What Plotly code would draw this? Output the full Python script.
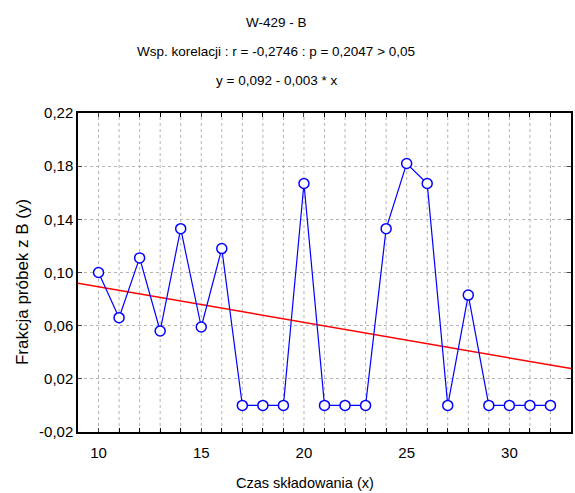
import numpy as np
import plotly.graph_objects as go

x_vals = list(range(10, 33))
y_vals = [0.100, 0.066, 0.111, 0.056, 0.133, 0.059, 0.118, 0.0, 0.0, 0.0,
          0.167, 0.0, 0.0, 0.0, 0.133, 0.182, 0.167, 0.0, 0.083, 0.0,
          0.0, 0.0, 0.0]
y_ticks = [-0.02, 0.02, 0.06, 0.10, 0.14, 0.18, 0.22]
y_ticktext = ["-0,02", "0,02", "0,06", "0,10", "0,14", "0,18", "0,22"]
x_ticks = [10, 15, 20, 25, 30]
title_lines = ["W-429 - B",
               "Wsp. korelacji : r = -0,2746 : p = 0,2047 > 0,05",
               "y = 0,092 - 0,003 * x"]
x_title = "Czas składowania (x)"
y_title = "Frakcja próbek z B (y)"
x_range = [9, 33]
y_range = [-0.02, 0.22]

slope, intercept = np.polyfit(x_vals, y_vals, 1)
fit_x = np.array(x_range, dtype=float)
fit_y = intercept + slope * fit_x

FONT = "Liberation Sans, Arial, sans-serif"

fig = go.Figure()
# vertical grid at every integer
for xv in range(10, 33):
    fig.add_shape(type="line", xref="x", yref="paper", x0=xv, x1=xv, y0=0, y1=1,
                  line=dict(color="#b4b4b4", width=1, dash="dot"), layer="below")

fig.add_trace(go.Scatter(x=fit_x, y=fit_y, mode="lines",
                         line=dict(color="#ff0000", width=1.5),
                         showlegend=False, hoverinfo="skip"))
fig.add_trace(go.Scatter(x=x_vals, y=y_vals, mode="lines+markers",
                         line=dict(color="#0000ff", width=1.2),
                         marker=dict(symbol="circle", size=10, color="white",
                                     line=dict(color="#0000ff", width=1.5)),
                         showlegend=False, cliponaxis=False))

for i, t in enumerate(title_lines):
    fig.add_annotation(text=t, xref="paper", yref="paper", x=0.402, y=1,
                       xanchor="center", yanchor="middle", showarrow=False,
                       yshift=91 - 29 * i,
                       font=dict(family=FONT, size=13.5, color="black"))

fig.add_annotation(text=x_title, xref="paper", yref="paper", x=0.46, y=0,
                   xanchor="center", yanchor="middle", showarrow=False,
                   yshift=-51, font=dict(family=FONT, size=14.5, color="black"))
fig.add_annotation(text=y_title, xref="paper", yref="paper", x=0, y=0.47,
                   xanchor="center", yanchor="middle", showarrow=False,
                   xshift=-56, textangle=-90,
                   font=dict(family=FONT, size=17, color="black"))

fig.update_layout(
    width=575, height=493,
    margin=dict(l=78, r=2, t=113, b=61),
    paper_bgcolor="white", plot_bgcolor="white",
    font=dict(family=FONT, size=15, color="black"),
    xaxis=dict(range=x_range, tickvals=x_ticks, ticks="inside", ticklen=4,
               showgrid=False, zeroline=False, showline=True, mirror="ticks",
               linecolor="black", linewidth=1.5, ticklabelstandoff=6,
               tickfont=dict(size=15),
               minor=dict(tickvals=list(range(9, 34)), ticks="inside", ticklen=4,
                          tickcolor="black")),
    yaxis=dict(range=y_range, tickvals=y_ticks, ticktext=y_ticktext,
               ticks="inside", ticklen=4, showgrid=True,
               gridcolor="#b4b4b4", griddash="dot", gridwidth=1,
               zeroline=False, showline=True, mirror="ticks",
               linecolor="black", linewidth=1.5,
               tickfont=dict(size=15)),
)

fig.write_html("out.html")
